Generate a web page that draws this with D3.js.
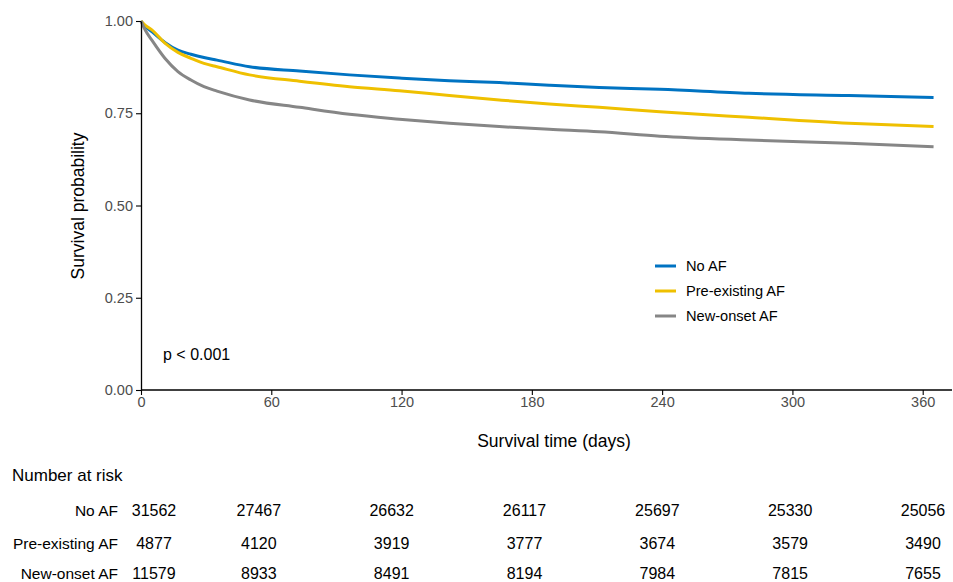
<!DOCTYPE html>
<html>
<head>
<meta charset="utf-8">
<script src="https://cdn.jsdelivr.net/npm/d3@7"></script>
<style>
  body { margin: 0; background: #fff; }
  svg { display: block; font-family: "Liberation Sans", Arial, sans-serif; }
</style>
</head>
<body>
<svg id="chart" width="953" height="582"></svg>
<script>
// ---- data ----
const times = [0, 2, 5, 11, 17, 23, 29, 35, 50, 73, 96, 119, 142, 165, 188, 211, 239, 280, 326, 365];
const noAF = [1, 0.985, 0.971, 0.942, 0.921, 0.910, 0.901, 0.894, 0.876, 0.8645, 0.854, 0.8455, 0.838, 0.833, 0.826, 0.820, 0.815, 0.804, 0.798, 0.793];
const preAF = [1, 0.988, 0.976, 0.940, 0.915, 0.899, 0.885, 0.876, 0.854, 0.837, 0.822, 0.811, 0.798, 0.786, 0.775, 0.766, 0.754, 0.739, 0.723, 0.714];
const newAF = [1, 0.975, 0.948, 0.899, 0.863, 0.840, 0.822, 0.810, 0.786, 0.766, 0.747, 0.734, 0.723, 0.714, 0.7065, 0.700, 0.688, 0.6775, 0.6685, 0.659];
const seriesNames = ["No AF", "Pre-existing AF", "New-onset AF"];
const seriesColors = ["#0073C2", "#EFC000", "#868686"];
const xTicks = [0, 60, 120, 180, 240, 300, 360];
const yTicks = [0, 0.25, 0.5, 0.75, 1];
const riskTimes = [0, 60, 120, 180, 240, 300, 360];
const riskNoAF = [31562, 27467, 26632, 26117, 25697, 25330, 25056];
const riskPreAF = [4877, 4120, 3919, 3777, 3674, 3579, 3490];
const riskNewAF = [11579, 8933, 8491, 8194, 7984, 7815, 7655];
const pText = "p < 0.001";

// ---- layout ----
const svg = d3.select("#chart");
const x = d3.scaleLinear().domain([0, 360]).range([141, 922.7]);
const y = d3.scaleLinear().domain([0, 1]).range([390, 21]);
const axisRight = 952;

const seriesVals = [noAF, preAF, newAF];

// curves
const line = d3.line()
  .x(d => x(d[0]))
  .y(d => y(d[1]))
  .curve(d3.curveMonotoneX);

seriesVals.forEach((vals, i) => {
  svg.append("path")
    .datum(times.map((t, j) => [t, vals[j]]))
    .attr("fill", "none")
    .attr("stroke", seriesColors[i])
    .attr("stroke-width", 3)
    .attr("stroke-linejoin", "round")
    .attr("d", line);
});

// axes
const xAxis = d3.axisBottom(x).tickValues(xTicks).tickSize(5).tickSizeOuter(0).tickPadding(2);
const gx = svg.append("g").attr("transform", "translate(0,390)").call(xAxis);
gx.select(".domain").remove();
gx.append("line").attr("x1", 141).attr("x2", axisRight).attr("y1", 0).attr("y2", 0)
  .attr("stroke", "#000").attr("stroke-width", 1.3);
gx.selectAll(".tick line").attr("stroke", "#000").attr("stroke-width", 1.1);
gx.selectAll(".tick text").attr("fill", "#4D4D4D").attr("font-size", 14.5)
  .attr("font-family", "Liberation Sans, Arial, sans-serif");

const yAxis = d3.axisLeft(y).tickValues(yTicks).tickFormat(d3.format(".2f")).tickSize(5).tickSizeOuter(0).tickPadding(3);
const gy = svg.append("g").attr("transform", "translate(141,0)").call(yAxis);
gy.select(".domain").attr("stroke", "#000").attr("stroke-width", 1.3);
gy.selectAll(".tick line").attr("stroke", "#000").attr("stroke-width", 1.1);
gy.selectAll(".tick text").attr("fill", "#4D4D4D").attr("font-size", 14.5)
  .attr("font-family", "Liberation Sans, Arial, sans-serif");

// axis titles
svg.append("text").attr("x", 554).attr("y", 447).attr("text-anchor", "middle")
  .attr("font-size", 17.5).attr("fill", "#000").text("Survival time (days)");
svg.append("text").attr("transform", "translate(84,206) rotate(-90)").attr("text-anchor", "middle")
  .attr("font-size", 17.5).attr("fill", "#000").text("Survival probability");

// p-value
svg.append("text").attr("x", 163).attr("y", 360).attr("font-size", 16).attr("fill", "#000").text(pText);

// legend
const legY = [266, 291, 316];
seriesNames.forEach((n, i) => {
  svg.append("line").attr("x1", 655).attr("x2", 676).attr("y1", legY[i]).attr("y2", legY[i])
    .attr("stroke", seriesColors[i]).attr("stroke-width", 3);
  svg.append("text").attr("x", 686).attr("y", legY[i] + 5).attr("font-size", 14.6).attr("fill", "#000").text(n);
});

// risk table
const tx = d3.scaleLinear().domain([0, 360]).range([126, 923]);
svg.append("text").attr("x", 12).attr("y", 481).attr("font-size", 17).attr("fill", "#000").text("Number at risk");
const riskRows = [riskNoAF, riskPreAF, riskNewAF];
const rowY = [516, 549, 579];
riskRows.forEach((row, i) => {
  svg.append("text").attr("x", 118).attr("y", rowY[i]).attr("text-anchor", "end")
    .attr("font-size", 15.5).attr("fill", "#000").text(seriesNames[i]);
  row.forEach((v, j) => {
    const cx = j === 0 ? tx(riskTimes[j]) + 28 : tx(riskTimes[j]);
    svg.append("text").attr("x", cx).attr("y", rowY[i]).attr("text-anchor", "middle")
      .attr("font-size", 16).attr("fill", "#000").text(v);
  });
});
</script>
</body>
</html>
